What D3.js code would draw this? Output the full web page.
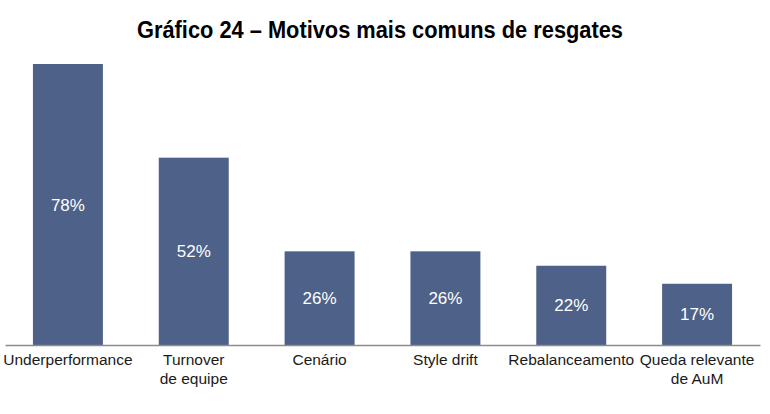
<!DOCTYPE html>
<html>
<head>
<meta charset="utf-8">
<script src="https://cdn.jsdelivr.net/npm/d3@7"></script>
<style>
  body { margin: 0; background: #fff; }
  svg { display: block; }
</style>
</head>
<body>
<svg id="chart" width="770" height="414"></svg>
<script>
// data
var categories = ["Underperformance", "Turnover\nde equipe", "Cenário", "Style drift", "Rebalanceamento", "Queda relevante\nde AuM"];
var values = [78, 52, 26, 26, 22, 17];
var chartTitle = "Gráfico 24 – Motivos mais comuns de resgates";

var svg = d3.select("#chart");
var plotLeft = 5, plotRight = 760, plotBase = 345, plotTop = 64;

var x = d3.scaleBand()
  .domain(categories)
  .range([plotLeft, plotRight])
  .paddingInner(0.444)
  .paddingOuter(0.222);

var y = d3.scaleLinear()
  .domain([0, d3.max(values)])
  .range([plotBase, plotTop]);

// title, condensed bold face
svg.append("text")
  .attr("x", 380)
  .attr("y", 38)
  .attr("text-anchor", "middle")
  .attr("textLength", 486)
  .attr("lengthAdjust", "spacingAndGlyphs")
  .style("font-family", "'Liberation Sans Narrow', 'Arial Narrow', 'Liberation Sans', Arial, sans-serif")
  .style("font-weight", "bold")
  .style("font-size", "23px")
  .attr("fill", "#000")
  .text(chartTitle);

// bars
svg.selectAll(".bar")
  .data(values)
  .enter()
  .append("rect")
  .attr("class", "bar")
  .attr("x", function(d, i) { return x(categories[i]); })
  .attr("y", function(d) { return y(d); })
  .attr("width", x.bandwidth())
  .attr("height", function(d) { return plotBase - y(d); })
  .attr("fill", "#4e6188");

// value labels in the middle of each bar
svg.selectAll(".val")
  .data(values)
  .enter()
  .append("text")
  .attr("class", "val")
  .attr("x", function(d, i) { return x(categories[i]) + x.bandwidth() / 2; })
  .attr("y", function(d) { return (y(d) + plotBase) / 2; })
  .attr("dy", "0.36em")
  .attr("text-anchor", "middle")
  .style("font-family", "'Liberation Sans', Arial, sans-serif")
  .style("font-size", "17px")
  .attr("fill", "#fff")
  .text(function(d) { return d + "%"; });

// baseline axis
var axis = svg.append("g")
  .attr("transform", "translate(0," + plotBase + ")")
  .call(d3.axisBottom(x).tickSize(0).tickFormat(""));
axis.select(".domain").attr("stroke", "#8c8c8c").attr("stroke-width", 1.5);

// category labels (may be two lines)
var cat = svg.selectAll(".cat")
  .data(categories)
  .enter()
  .append("text")
  .attr("class", "cat")
  .attr("text-anchor", "middle")
  .style("font-family", "'Liberation Sans', Arial, sans-serif")
  .style("font-size", "15.5px")
  .attr("fill", "#1a1a1a");

cat.selectAll("tspan")
  .data(function(d) { return d.split("\n").map(function(t) { return { t: t, c: d }; }); })
  .enter()
  .append("tspan")
  .attr("x", function(d) { return x(d.c) + x.bandwidth() / 2; })
  .attr("y", function(d, i) { return 365 + i * 19; })
  .text(function(d) { return d.t; });
</script>
</body>
</html>
